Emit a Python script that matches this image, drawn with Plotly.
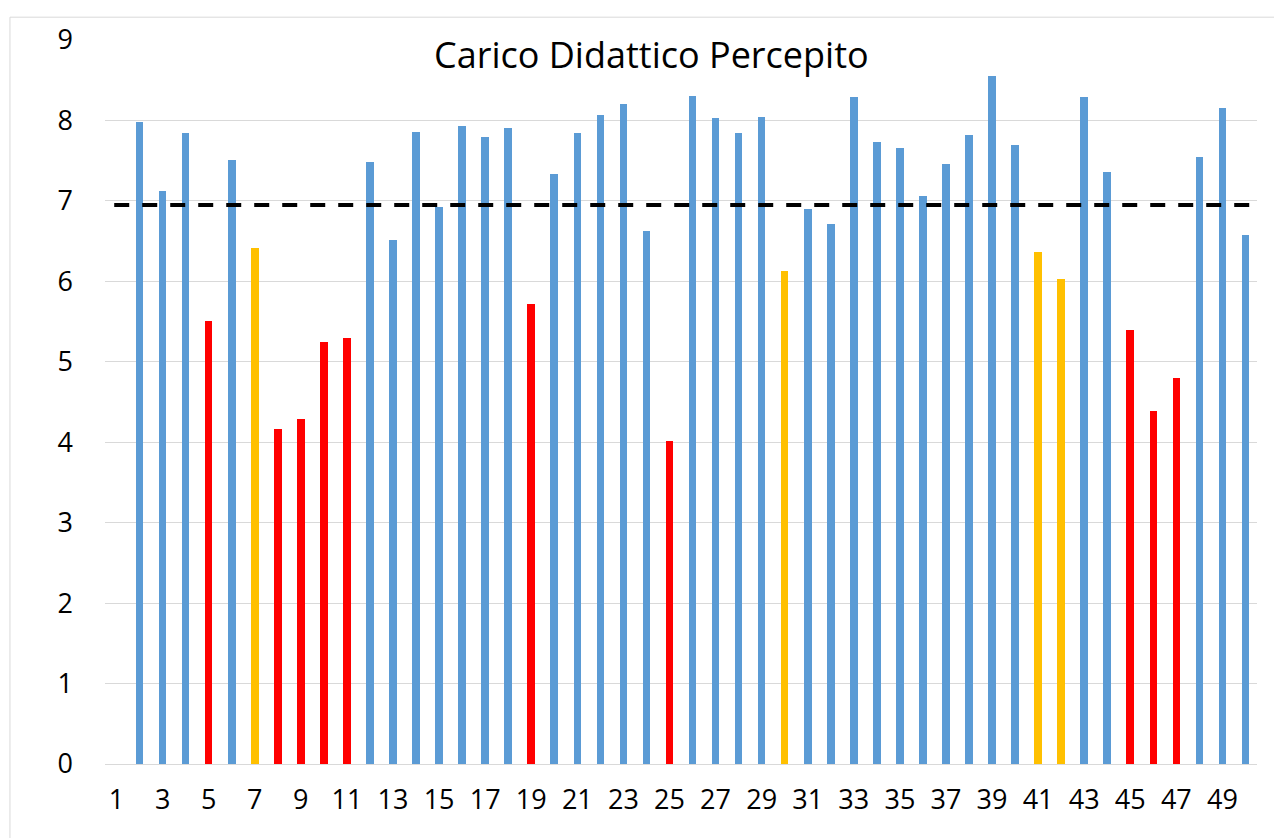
import plotly.graph_objects as go

# ---- data ----
categories = list(range(1, 51))
values = [None, 7.98, 7.12, 7.85, 5.51, 7.51, 6.42, 4.16, 4.29, 5.25,
          5.29, 7.48, 6.51, 7.86, 6.93, 7.93, 7.79, 7.90, 5.72, 7.34,
          7.84, 8.07, 8.21, 6.62, 4.02, 8.31, 8.03, 7.84, 8.04, 6.13,
          6.90, 6.71, 8.29, 7.73, 7.66, 7.06, 7.46, 7.82, 8.55, 7.70,
          6.37, 6.03, 8.29, 7.36, 5.40, 4.39, 4.80, 7.54, 8.16, 6.57]
threshold = 6.95
tick_vals = [c for c in categories if c % 2 == 1]
tick_text = [str(c) for c in tick_vals]
y_ticks = list(range(0, 10))
title_text = "Carico Didattico Percepito"

# ---- styling ----
BLUE, RED, YELLOW = "#5B9BD5", "#FF0000", "#FFC000"
FONT = "Open Sans"


def bar_color(v):
    if v is None:
        return BLUE
    if v < 6:
        return RED
    if v < 6.5:
        return YELLOW
    return BLUE


colors = [bar_color(v) for v in values]

fig = go.Figure()
fig.add_trace(go.Bar(x=categories, y=values, marker=dict(color=colors, line=dict(width=0)),
                     width=0.33, showlegend=False, hoverinfo="x+y"))
fig.add_trace(go.Scatter(x=[categories[0] - 0.1, categories[-1] + 0.35], y=[threshold, threshold],
                         mode="lines", line=dict(color="black", width=4, dash="15px,13px"),
                         showlegend=False, hoverinfo="skip"))

# the page body has an 8px margin, so the figure is sized/positioned to compensate
fig.update_layout(
    width=1274, height=830,
    margin=dict(l=97, r=25, t=26, b=74, pad=0),
    paper_bgcolor="white", plot_bgcolor="white",
    font=dict(family=FONT, color="black"),
    bargap=0,
)
fig.update_xaxes(range=[0.5, 50.5], tickvals=tick_vals, ticktext=tick_text,
                 tickfont=dict(size=27, family=FONT), showgrid=False, zeroline=False,
                 showline=True, linecolor="#D9D9D9", linewidth=1, ticks="",
                 ticklabelstandoff=12, fixedrange=True)
fig.update_yaxes(range=[0, 9], tickvals=y_ticks, tickfont=dict(size=27, family=FONT),
                 showgrid=True, gridcolor="#D9D9D9", gridwidth=1, zeroline=False,
                 ticks="", ticklabelstandoff=31, fixedrange=True)

fig.add_annotation(text=title_text, xref="paper", yref="paper", x=0.4748, y=0.98,
                   xanchor="center", yanchor="middle", showarrow=False,
                   font=dict(size=36, family=FONT, color="black"))
fig.add_shape(type="rect", xref="paper", yref="paper", x0=-0.0825, x1=1.2, y0=-0.2, y1=1.0315,
              line=dict(color="#D9D9D9", width=1), fillcolor="rgba(0,0,0,0)", layer="below")

fig.write_html("out.html")
